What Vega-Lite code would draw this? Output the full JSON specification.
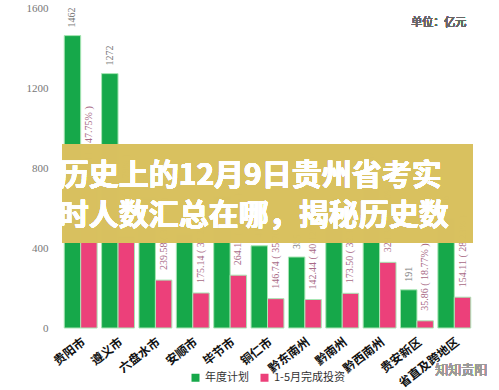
{
  "$schema": "https://vega.github.io/schema/vega-lite/v6.json",
  "width": 411,
  "height": 320,
  "autosize": {"type": "none"},
  "padding": {"left": 62, "top": 8, "right": 26, "bottom": 62},
  "background": "white",
  "config": {"view": {"stroke": null}},
  "data": {
    "values": [
      {"region": "贵阳市", "series": "年度计划", "value": 1462, "label": "1462"},
      {"region": "贵阳市", "series": "1-5月完成投资", "value": 698.11, "label": "698.11 ( 47.75% )"},
      {"region": "遵义市", "series": "年度计划", "value": 1272, "label": "1272"},
      {"region": "遵义市", "series": "1-5月完成投资", "value": 455.23, "label": "455.23 ( 35.79% )"},
      {"region": "六盘水市", "series": "年度计划", "value": 650, "label": "650"},
      {"region": "六盘水市", "series": "1-5月完成投资", "value": 239.58, "label": "239.58 ( 36.86% )"},
      {"region": "安顺市", "series": "年度计划", "value": 470, "label": "470"},
      {"region": "安顺市", "series": "1-5月完成投资", "value": 175.14, "label": "175.14 ( 37.26% )"},
      {"region": "毕节市", "series": "年度计划", "value": 658, "label": "658"},
      {"region": "毕节市", "series": "1-5月完成投资", "value": 264.11, "label": "264.11 ( 40.14% )"},
      {"region": "铜仁市", "series": "年度计划", "value": 411, "label": "411"},
      {"region": "铜仁市", "series": "1-5月完成投资", "value": 146.74, "label": "146.74 ( 35.70% )"},
      {"region": "黔东南州", "series": "年度计划", "value": 355, "label": "355"},
      {"region": "黔东南州", "series": "1-5月完成投资", "value": 142.44, "label": "142.44 ( 40.12% )"},
      {"region": "黔南州", "series": "年度计划", "value": 536, "label": "536"},
      {"region": "黔南州", "series": "1-5月完成投资", "value": 173.5, "label": "173.50 ( 32.37% )"},
      {"region": "黔西南州", "series": "年度计划", "value": 767, "label": "767"},
      {"region": "黔西南州", "series": "1-5月完成投资", "value": 328.3, "label": "328.30 ( 42.80% )"},
      {"region": "贵安新区", "series": "年度计划", "value": 191, "label": "191"},
      {"region": "贵安新区", "series": "1-5月完成投资", "value": 35.86, "label": "35.86 ( 18.77% )"},
      {"region": "省直及跨地区", "series": "年度计划", "value": 546, "label": "546"},
      {"region": "省直及跨地区", "series": "1-5月完成投资", "value": 154.11, "label": "154.11 ( 28.23% )"}
    ]
  },
  "layer": [
    {
      "mark": {"type": "bar", "stroke": "#A8E6B4", "strokeWidth": 1},
      "encoding": {
        "x": {"field": "region", "type": "nominal", "sort": null,
              "scale": {"paddingInner": 0.12, "paddingOuter": 0.06},
              "axis": {"title": null, "labelAngle": -38, "labelAlign": "right", "labelBaseline": "top",
                       "labelFontWeight": "bold", "labelFontSize": 12, "labelColor": "#111",
                       "labelFont": "Noto Sans CJK SC", "domain": false, "ticks": false, "labelPadding": 8}},
        "xOffset": {"field": "series", "type": "nominal", "sort": ["年度计划", "1-5月完成投资"]},
        "y": {"field": "value", "type": "quantitative", "scale": {"domain": [0, 1600]},
              "axis": {"title": null, "grid": false, "domain": false, "ticks": false, "format": "d",
                       "values": [0, 200, 400, 600, 800, 1000, 1200, 1400, 1600],
                       "labelColor": "#777", "labelFontSize": 11, "labelFont": "Liberation Serif", "labelPadding": 14}},
        "color": {"field": "series", "type": "nominal", "sort": ["年度计划", "1-5月完成投资"],
                  "scale": {"domain": ["年度计划", "1-5月完成投资"], "range": ["#16A84A", "#EC407A"]},
                  "legend": {"orient": "none", "legendX": 128, "legendY": 364, "direction": "horizontal",
                             "title": null, "symbolType": "square", "symbolSize": 64, "symbolStrokeWidth": 0,
                             "labelFontSize": 11, "labelFont": "Noto Sans CJK SC", "labelColor": "#333",
                             "columnPadding": 10}}
      }
    },
    {
      "transform": [{"filter": "datum.series === '年度计划'"}],
      "mark": {"type": "text", "angle": 270, "align": "left", "baseline": "middle", "dx": 8,
               "font": "Liberation Serif", "fontSize": 10, "color": "#777"},
      "encoding": {
        "x": {"field": "region", "type": "nominal", "sort": null},
        "xOffset": {"field": "series", "type": "nominal", "sort": ["年度计划", "1-5月完成投资"]},
        "y": {"field": "value", "type": "quantitative"},
        "text": {"field": "label"}
      }
    },
    {
      "transform": [{"filter": "datum.series !== '年度计划'"}],
      "mark": {"type": "text", "angle": 270, "align": "left", "baseline": "middle", "dx": 10,
               "font": "Liberation Serif", "fontSize": 10, "color": "#A86A86"},
      "encoding": {
        "x": {"field": "region", "type": "nominal", "sort": null},
        "xOffset": {"field": "series", "type": "nominal", "sort": ["年度计划", "1-5月完成投资"]},
        "y": {"field": "value", "type": "quantitative"},
        "text": {"field": "label"}
      }
    },
    {
      "mark": {"type": "rect", "color": "#D8C060", "opacity": 0.7},
      "encoding": {
        "y": {"datum": 920, "type": "quantitative"},
        "y2": {"datum": 425}
      }
    },
    {
      "mark": {"type": "text", "align": "left", "baseline": "middle", "dx": -22,
               "font": "Noto Sans CJK SC", "fontSize": 30, "fontWeight": "bold", "color": "white"},
      "encoding": {
        "x": {"datum": "贵阳市"},
        "y": {"datum": 760, "type": "quantitative"},
        "text": {"value": "历史上的12月9日贵州省考实"}
      }
    },
    {
      "mark": {"type": "text", "align": "left", "baseline": "middle", "dx": -22,
               "font": "Noto Sans CJK SC", "fontSize": 30, "fontWeight": "bold", "color": "white"},
      "encoding": {
        "x": {"datum": "贵阳市"},
        "y": {"datum": 560, "type": "quantitative"},
        "text": {"value": "时人数汇总在哪，揭秘历史数"}
      }
    },
    {
      "mark": {"type": "text", "align": "right", "baseline": "middle", "dx": 12,
               "font": "Noto Sans CJK SC", "fontSize": 11, "fontWeight": "normal", "color": "#666"},
      "encoding": {
        "x": {"datum": "省直及跨地区"},
        "y": {"datum": 1525, "type": "quantitative"},
        "text": {"value": "单位：亿元"}
      }
    },
    {
      "mark": {"type": "text", "align": "left", "baseline": "middle", "dx": -19,
               "font": "Noto Sans CJK SC", "fontSize": 13, "color": "#9A9A9A"},
      "encoding": {
        "x": {"datum": "省直及跨地区"},
        "y": {"datum": -210, "type": "quantitative"},
        "text": {"value": "知知贵阳"}
      }
    }
  ]
}
